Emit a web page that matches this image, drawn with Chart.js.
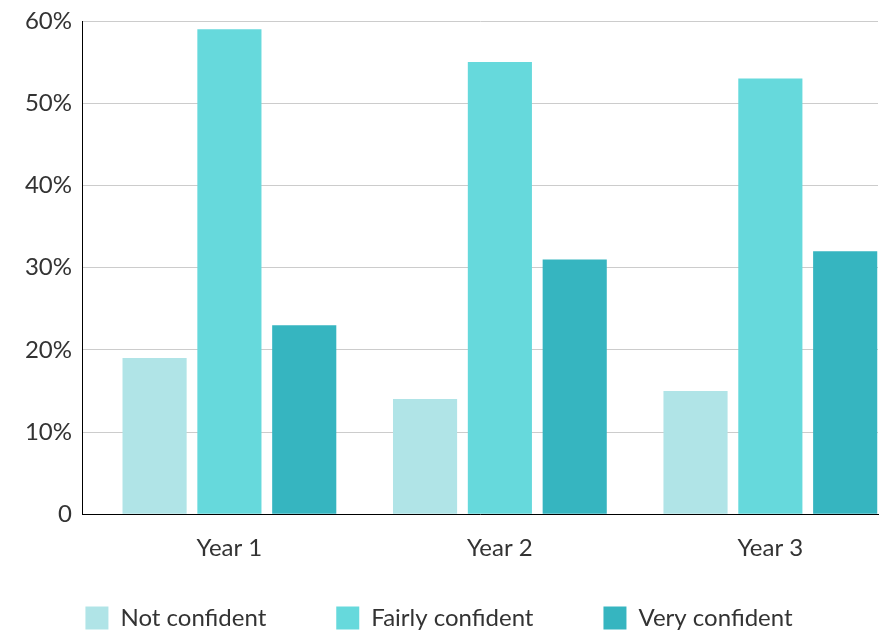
<!DOCTYPE html>
<html>
<head>
<meta charset="utf-8">
<script src="https://cdn.jsdelivr.net/npm/chart.js@4"></script>
<style>
  html, body { margin: 0; padding: 0; background: #fff; }
  #wrap { width: 881px; height: 632px; }
</style>
</head>
<body>
<div id="wrap"><canvas id="chart"></canvas></div>
<script>
// chart data
const categories = ['Year 1', 'Year 2', 'Year 3'];
const notConfident = [19, 14, 15];
const fairlyConfident = [59, 55, 53];
const veryConfident = [23, 31, 32];
const seriesNames = ['Not confident', 'Fairly confident', 'Very confident'];
const yTicks = [0, 10, 20, 30, 40, 50, 60];

const colors = ['#b0e4e7', '#66d9dc', '#36b5c0'];
const textColor = '#333333';
const fontFamily = 'Lato, "Open Sans", sans-serif';

Chart.defaults.font.family = fontFamily;
Chart.defaults.color = textColor;

const seriesValues = [notConfident, fairlyConfident, veryConfident];

// legend padding is big (for the gaps between items), so pull the row back up
const legendLift = {
    id: 'legendLift',
    afterLayout(chart) {
        chart.legend.top -= 39;
    }
};

new Chart(document.getElementById('chart'), {
    type: 'bar',
    data: {
        labels: categories,
        datasets: seriesNames.map((name, i) => ({
            label: name,
            data: seriesValues[i],
            backgroundColor: colors[i],
            borderWidth: 0,
            categoryPercentage: 0.83,
            barPercentage: 0.857
        }))
    },
    options: {
        responsive: true,
        maintainAspectRatio: false,
        animation: false,
        layout: { padding: { top: 21, right: 3, left: 0, bottom: 0 } },
        plugins: {
            tooltip: { enabled: false },
            legend: {
                position: 'bottom',
                maxHeight: 57,
                labels: {
                    boxWidth: 23,
                    boxHeight: 23,
                    padding: 70,
                    font: { size: 24 },
                    color: textColor
                }
            }
        },
        scales: {
            x: {
                grid: { display: false },
                border: { display: true, color: '#000', width: 1 },
                ticks: { font: { size: 24 }, padding: 12, color: textColor },
                // the groups sit a little right of the usual category centres
                afterBuildTicks: scale => {
                    scale._startValue = -0.545;
                    scale._valueRange = 2.943;
                }
            },
            y: {
                min: 0,
                max: 60,
                afterBuildTicks: scale => {
                    scale.ticks = yTicks.map(v => ({ value: v }));
                },
                afterFit: scale => {
                    scale.width = 82;
                    scale.paddingTop = 0;
                },
                grid: { color: '#cccccc', lineWidth: 1, drawTicks: false },
                border: { display: true, color: '#000', width: 1 },
                ticks: {
                    font: { size: 24 },
                    padding: 10,
                    color: textColor,
                    callback: v => v === 0 ? '0' : v + '%'
                }
            }
        }
    },
    plugins: [legendLift]
});
</script>
</body>
</html>
